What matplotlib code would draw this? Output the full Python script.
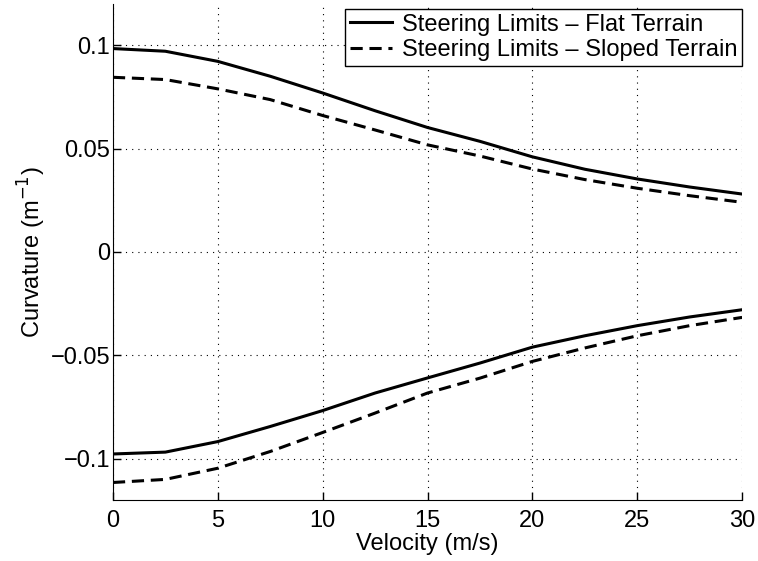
import numpy as np
import matplotlib.pyplot as plt

plt.rc('font', family=['Liberation Sans', 'DejaVu Sans'])
plt.rc('font', size=17)

# velocity samples (m/s)
velocity = [0, 2.5, 5, 7.5, 10, 12.5, 15, 17.5, 20, 22.5, 25, 27.5, 30]

# curvature limits (1/m)
flat_upper = [0.0984, 0.0971, 0.0922, 0.0850, 0.0769, 0.0683, 0.0602, 0.0535, 0.0460, 0.0400, 0.0353, 0.0314, 0.0280]
flat_lower = [-0.0978, -0.0969, -0.0918, -0.0845, -0.0768, -0.0683, -0.0610, -0.0538, -0.0461, -0.0406, -0.0357, -0.0315, -0.0280]
sloped_upper = [0.0845, 0.0834, 0.0789, 0.0737, 0.0660, 0.0590, 0.0518, 0.0464, 0.0401, 0.0350, 0.0308, 0.0272, 0.0240]
sloped_lower = [-0.1116, -0.1101, -0.1047, -0.0966, -0.0874, -0.0780, -0.0683, -0.0611, -0.0530, -0.0465, -0.0406, -0.0357, -0.0317]

xticks = [0, 5, 10, 15, 20, 25, 30]
yticks = [-0.1, -0.05, 0, 0.05, 0.1]
ytick_labels = ['\u22120.1', '\u22120.05', '0', '0.05', '0.1']

fig = plt.figure(figsize=(7.58, 5.61), dpi=100)
ax = fig.add_axes([0.149, 0.109, 0.830, 0.884])

dash = (0, (4, 2.2))
ax.plot(velocity, flat_upper, color='black', linewidth=2.2, label='Steering Limits \u2013 Flat Terrain')
ax.plot(velocity, sloped_upper, color='black', linewidth=2.2, linestyle=dash,
        label='Steering Limits \u2013 Sloped Terrain')
ax.plot(velocity, flat_lower, color='black', linewidth=2.2)
ax.plot(velocity, sloped_lower, color='black', linewidth=2.2, linestyle=dash)

ax.set_xlim(0, 30)
ax.set_ylim(-0.12, 0.12)
ax.set_xticks(xticks)
ax.set_yticks(yticks)
ax.set_yticklabels(ytick_labels)
ax.tick_params(direction='in', length=6, width=1)
ax.tick_params(axis='y', pad=2)
ax.tick_params(axis='x', pad=7)
ax.grid(True, color='black', linestyle=(0, (1, 4.6)), linewidth=0.8)
ax.spines['top'].set_visible(False)
ax.spines['right'].set_visible(False)

ax.set_xlabel('Velocity (m/s)', labelpad=1)
ax.set_ylabel('Curvature (m$^{-1}$)', labelpad=2)

leg = ax.legend(loc='upper right', bbox_to_anchor=(1.0, 0.99), fontsize=17,
                fancybox=False, framealpha=1, edgecolor='black', borderaxespad=0,
                handlelength=1.8, handletextpad=0.4, borderpad=0.2, labelspacing=0.15)
leg.get_frame().set_linewidth(1.0)

plt.savefig('out.png', dpi=100)
